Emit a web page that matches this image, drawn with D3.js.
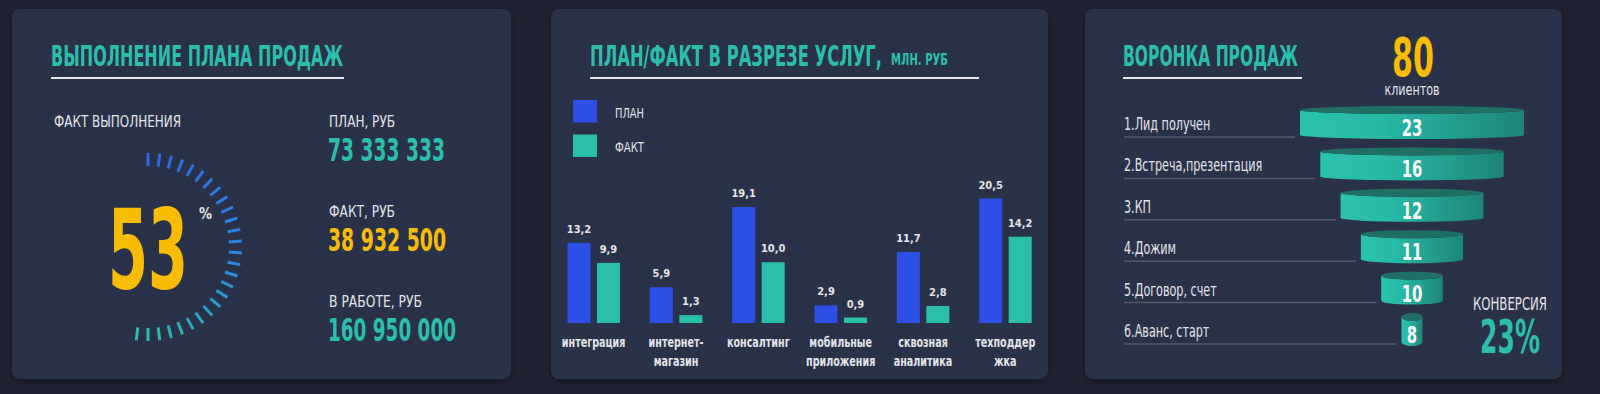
<!DOCTYPE html>
<html>
<head>
<meta charset="utf-8">
<script src="https://cdn.jsdelivr.net/npm/d3@7"></script>
<style>
  html, body { margin: 0; padding: 0; background: #1f2132; }
  svg { display: block; }
  text { font-family: "DejaVu Sans Condensed", "Liberation Sans Narrow", "Roboto", sans-serif; }
</style>
</head>
<body>
<svg id="chart" width="1600" height="394"></svg>
<script>
// ---------------- DATA ----------------
const kpiPercent = 53;
const kpiPlan = 73333333;
const kpiFact = 38932500;
const kpiInWork = 160950000;

const categories = ["интеграция", "интернет-магазин", "консалтинг", "мобильные приложения", "сквозная аналитика", "техподдержка"];
const categoryLines = [["интеграция"], ["интернет-", "магазин"], ["консалтинг"], ["мобильные", "приложения"], ["сквозная", "аналитика"], ["техподдер", "жка"]];
const planValues = [13.2, 5.9, 19.1, 2.9, 11.7, 20.5];
const factValues = [9.9, 1.3, 10.0, 0.9, 2.8, 14.2];
const seriesNames = ["ПЛАН", "ФАКТ"];

const funnelStages = ["1.Лид получен", "2.Встреча,презентация", "3.КП", "4.Дожим", "5.Договор, счет", "6.Аванс, старт"];
const funnelValues = [23, 16, 12, 11, 10, 8];
const totalClients = 80;
const conversion = 23;

// ---------------- STYLE ----------------
const C = {
  panel: "#2c3049",
  teal: "#2bbfab",
  blue: "#2d4fe6",
  yellow: "#f8bc00",
  light: "#e4e4ea",
  line: "#e8e8ee",
  grey: "#57596b"
};

const svg = d3.select("#chart");
const defs = svg.append("defs");

function fit(sel, w) {
  sel.attr("textLength", w).attr("lengthAdjust", "spacingAndGlyphs");
  return sel;
}
function condense(sel, k) {
  sel.each(function () {
    const w = this.getComputedTextLength();
    d3.select(this).attr("textLength", w * k).attr("lengthAdjust", "spacingAndGlyphs");
  });
  return sel;
}
function txt(g, x, y, s, size, color, weight, w, anchor) {
  const t = g.append("text").attr("x", x).attr("y", y).text(s)
    .attr("font-size", size).attr("fill", color)
    .attr("font-weight", weight || "normal")
    .attr("text-anchor", anchor || "start");
  if (w) fit(t, w);
  return t;
}
const fmtSpace = v => d3.format(",")(v).replace(/,/g, " ");
const fmtComma = v => d3.format(".1f")(v).replace(".", ",");

// shadow
const f = defs.append("filter").attr("id", "sh").attr("x", "-5%").attr("y", "-5%").attr("width", "110%").attr("height", "115%");
f.append("feDropShadow").attr("dx", 0).attr("dy", 2).attr("stdDeviation", 3).attr("flood-color", "#000").attr("flood-opacity", 0.35);

// panels
const panels = [[12, 9, 499, 370], [551, 9, 497, 370], [1085, 9, 477, 370]];
svg.selectAll("rect.panel").data(panels).join("rect")
  .attr("class", "panel")
  .attr("x", d => d[0]).attr("y", d => d[1]).attr("width", d => d[2]).attr("height", d => d[3])
  .attr("rx", 8).attr("fill", C.panel).attr("filter", "url(#sh)");

function title(x, s, w, uw) {
  txt(svg, x, 66, s, 28, C.teal, "bold", w);
  svg.append("line").attr("x1", x).attr("x2", x + uw).attr("y1", 78).attr("y2", 78)
    .attr("stroke", C.line).attr("stroke-width", 2);
}

// ---------------- PANEL 1 ----------------
title(51, "ВЫПОЛНЕНИЕ ПЛАНА ПРОДАЖ", 292, 293);
txt(svg, 54, 127, "ФАКТ ВЫПОЛНЕНИЯ", 16.5, C.light, "normal", 127);

const gauge = svg.append("g").attr("transform", "translate(148,247)");
const nTicks = 27;
const tickIdx = d3.range(nTicks);
const angle = d3.scaleLinear().domain([0, nTicks - 1]).range([0, 187.2]);
const tickColor = d3.scaleLinear().domain([0, nTicks * 0.5, nTicks - 1]).range(["#2f68e2", "#2d86de", "#2bbfab"]);
gauge.selectAll("line").data(tickIdx).join("line")
  .attr("x1", 0).attr("x2", 0).attr("y1", -81).attr("y2", -94)
  .attr("transform", d => `rotate(${angle(d)})`)
  .attr("stroke", d => tickColor(d)).attr("stroke-width", 3);

txt(svg, 148, 288, String(kpiPercent), 110, C.yellow, "bold", 80, "middle");
txt(svg, 199, 219, "%", 15, C.light, "bold", 13);

const kpis = [
  { label: "ПЛАН, РУБ", value: kpiPlan, color: C.teal, lw: 66, vw: 117 },
  { label: "ФАКТ, РУБ", value: kpiFact, color: C.yellow, lw: 66, vw: 118 },
  { label: "В РАБОТЕ, РУБ", value: kpiInWork, color: C.teal, lw: 93, vw: 128 }
];
kpis.forEach((k, i) => {
  const y0 = 127 + i * 90;
  txt(svg, 329, y0, k.label, 16.5, C.light, "normal", k.lw);
  txt(svg, 328, y0 + 34, fmtSpace(k.value), 32, k.color, "bold", k.vw);
});

// ---------------- PANEL 2 ----------------
txt(svg, 590, 66, "ПЛАН/ФАКТ В РАЗРЕЗЕ УСЛУГ,", 29, C.teal, "bold", 292);
txt(svg, 891, 65, "МЛН. РУБ", 16, C.teal, "bold", 57);
svg.append("line").attr("x1", 590).attr("x2", 979).attr("y1", 78).attr("y2", 78)
  .attr("stroke", C.line).attr("stroke-width", 2);

const seriesColor = d3.scaleOrdinal().domain(seriesNames).range([C.blue, C.teal]);
const legend = svg.append("g");
seriesNames.forEach((s, i) => {
  legend.append("rect").attr("x", 573).attr("y", 100 + i * 34.5).attr("width", 24).attr("height", 22.5).attr("fill", seriesColor(s));
  txt(legend, 615, 118 + i * 34, s, 14, C.light, "normal", 29);
});

const x0 = d3.scaleBand().domain(categories).range([552, 1046]).paddingInner(0).paddingOuter(0);
const x1 = d3.scaleBand().domain(seriesNames).range([15.5, 68]).paddingInner(0.22).paddingOuter(0);
const y = d3.scaleLinear().domain([0, 20.5]).range([323, 198.5]);

const barData = categories.flatMap((c, i) => [
  { cat: c, s: seriesNames[0], v: planValues[i] },
  { cat: c, s: seriesNames[1], v: factValues[i] }
]);
const bars = svg.append("g");
bars.selectAll("rect").data(barData).join("rect")
  .attr("x", d => x0(d.cat) + x1(d.s)).attr("width", x1.bandwidth())
  .attr("y", d => y(d.v)).attr("height", d => y(0) - y(d.v))
  .attr("fill", d => seriesColor(d.s));
bars.selectAll("text").data(barData).join("text")
  .attr("x", d => x0(d.cat) + x1(d.s) + x1.bandwidth() / 2)
  .attr("y", d => y(d.v) - 10)
  .attr("text-anchor", "middle")
  .attr("font-family", "DejaVu Sans")
  .attr("font-weight", "bold").attr("font-size", 11)
  .attr("fill", C.light)
  .text(d => fmtComma(d.v));

const catG = svg.append("g");
categories.forEach((c, i) => {
  categoryLines[i].forEach((ln, j) => {
    const t = catG.append("text").attr("x", x0(c) + x0.bandwidth() / 2 + 0.5).attr("y", 347 + j * 19)
      .attr("text-anchor", "middle").attr("font-size", 14).attr("fill", C.light)
      .attr("font-family", "DejaVu Sans Condensed").attr("font-weight", "bold")
      .text(ln);
    condense(t, 0.76);
  });
});

// ---------------- PANEL 3 ----------------
title(1123, "ВОРОНКА ПРОДАЖ", 175, 179);
txt(svg, 1413, 76, String(totalClients), 53, C.yellow, "bold", 42, "middle");
txt(svg, 1412, 95, "клиентов", 16, C.light, "normal", 55, "middle");

const cx = 1412;
const fy = d3.scalePoint().domain(funnelStages).range([106, 313]);
const fw = d3.scaleLinear().domain([0, funnelStages.length - 1]).range([224, 21]);
const ry = 4, bodyH = 33;

const grad = defs.append("linearGradient").attr("id", "cyl").attr("x1", "0%").attr("x2", "100%").attr("y1", "0%").attr("y2", "0%");
grad.append("stop").attr("offset", "0%").attr("stop-color", "#2ac3ae");
grad.append("stop").attr("offset", "35%").attr("stop-color", "#27b9a6");
grad.append("stop").attr("offset", "100%").attr("stop-color", "#1e8579");

const fg = svg.append("g");
funnelStages.forEach((s, i) => {
  const top = fy(s), w = fw(i), l = cx - w / 2, r = cx + w / 2;
  const rx = w / 2;
  // label + underline
  condense(txt(fg, 1124, top + 24, s, 18, C.light, "normal"), 0.69);
  fg.append("line").attr("x1", 1124).attr("x2", l - 5).attr("y1", top + 31).attr("y2", top + 31)
    .attr("stroke", C.grey).attr("stroke-width", 1.5);
  // body
  const yT = top + ry, yB = top + bodyH - ry;
  fg.append("path")
    .attr("d", `M${l},${yT} L${l},${yB} A${rx},${ry} 0 0 0 ${r},${yB} L${r},${yT} A${rx},${ry} 0 0 1 ${l},${yT} Z`)
    .attr("fill", "url(#cyl)");
  fg.append("ellipse").attr("cx", cx).attr("cy", yT).attr("rx", rx).attr("ry", ry).attr("fill", "#1f6f66");
  condense(txt(fg, cx, top + 30, String(funnelValues[i]), 23, "#ffffff", "bold", null, "middle"), 0.72);
});

txt(svg, 1510, 310, "КОНВЕРСИЯ", 18, C.light, "normal", 74, "middle");
txt(svg, 1510, 353, conversion + "%", 46, C.teal, "bold", 60, "middle");
</script>
</body>
</html>
